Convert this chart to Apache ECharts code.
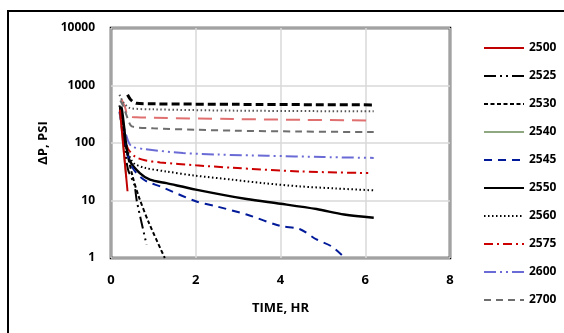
<!DOCTYPE html>
<html>
<head>
<meta charset="utf-8">
<script src="https://cdn.jsdelivr.net/npm/echarts@6/dist/echarts.min.js"></script>
<style>
  html, body { margin: 0; padding: 0; background: #fff; }
  #chart { width: 564px; height: 333px; }
</style>
</head>
<body>
<div id="chart"></div>
<script>
// time (hr) / delta P (psi)
const t2500 = [0.21, 0.39];
const p2500 = [380, 14.5];
const t2525 = [0.21, 0.3, 0.4, 0.55, 0.61, 0.84];
const p2525 = [420, 120, 35, 18.8, 9.7, 1.7];
const t2530 = [0.21, 0.35, 0.5, 0.65, 0.9, 1.27];
const p2530 = [420, 90, 28, 12, 4, 1];
const t2540 = [0.21, 0.36];
const p2540 = [380, 25];
const t2545 = [0.2, 0.3, 0.45, 0.6, 0.84, 1.16, 2.0, 2.49, 3.2, 4.0, 4.45, 4.85, 5.2, 5.52];
const p2545 = [350, 120, 45, 30, 21.5, 17.6, 9.7, 7.9, 5.7, 3.6, 3.2, 2.1, 1.6, 1];
const t2550 = [0.2, 0.25, 0.37, 0.45, 0.68, 0.92, 1.31, 2.0, 3.2, 4.0, 4.85, 5.5, 6.2];
const p2550 = [420, 410, 81, 48, 30, 23, 20, 15.5, 10.6, 8.8, 7.1, 5.7, 5.0];
const t2560 = [0.2, 0.3, 0.4, 0.53, 0.8, 1.3, 2.0, 2.87, 3.6, 4.46, 5.3, 6.2];
const p2560 = [450, 150, 70, 45, 37, 32, 27, 23, 20, 17.6, 16.2, 15];
const t2575 = [0.22, 0.3, 0.4, 0.57, 0.8, 1.16, 2.0, 2.87, 4.46, 6.07];
const p2575 = [420, 150, 80, 58, 50, 46, 41, 37, 32, 30];
const t2600 = [0.22, 0.3, 0.4, 0.49, 0.8, 1.7, 2.5, 3.68, 5.0, 6.2];
const p2600 = [420, 200, 110, 87, 78, 67, 63, 60, 57, 55];
const t2700 = [0.22, 0.29, 0.4, 0.49, 1.0, 2.0, 2.87, 4.5, 6.2];
const p2700 = [550, 435, 260, 195, 180, 170, 164, 158, 155];
// curves whose legend entries fall outside the picture
const t2800 = [0.25, 0.33, 0.41, 0.6, 1.0, 2.87, 4.5, 6.05];
const p2800 = [570, 420, 290, 280, 275, 261, 253, 247];
const t2900 = [0.2, 0.3, 0.45, 1.0, 3.0, 6.2];
const p2900 = [690, 500, 405, 385, 365, 355];
const t3000 = [0.39, 0.47, 0.6, 1.0, 3.0, 6.2];
const p3000 = [690, 560, 490, 480, 470, 460];

const legendNames = ['2500', '2525', '2530', '2540', '2545', '2550', '2560', '2575', '2600', '2700'];
const yTicks = [1, 10, 100, 1000, 10000];

const pairs = (t, p) => t.map((x, i) => [x, p[i]]);

function line(name, t, p, color, type, width) {
    return {
        name: name,
        type: 'line',
        data: pairs(t, p),
        symbol: 'none',
        smooth: 0.3,
        lineStyle: { color: color, type: type, width: width || 2 },
        itemStyle: { color: color },
        z: 3
    };
}

const series = [
    line('2800', t2800, p2800, '#e07070', [14, 8]),
    line('2900', t2900, p2900, '#555555', [1.5, 2.5]),
    line('3000', t3000, p3000, '#000000', [8, 4], 3),
    line('2700', t2700, p2700, '#6e6e6e', [7, 5]),
    line('2600', t2600, p2600, '#6b6bd6', [12, 4, 2, 4, 2, 4]),
    line('2575', t2575, p2575, '#cc0000', [9, 4, 2, 4]),
    line('2560', t2560, p2560, '#000000', [1.5, 2.5]),
    line('2550', t2550, p2550, '#000000', 'solid', 2.4),
    line('2545', t2545, p2545, '#001a99', [8, 6]),
    line('2540', t2540, p2540, '#8fa882', 'solid'),
    line('2530', t2530, p2530, '#000000', [4, 2.5]),
    line('2525', t2525, p2525, '#000000', [12, 4, 2, 4, 2, 4]),
    line('2500', t2500, p2500, '#c00000', 'solid')
];

const chart = echarts.init(document.getElementById('chart'));
const font = '"Open Sans", "Liberation Sans", sans-serif';

chart.setOption({
    animation: false,
    backgroundColor: '#fff',
    textStyle: { fontFamily: font },
    graphic: [{
        type: 'rect',
        shape: { x: 8, y: 11, width: 700, height: 400 },
        style: { fill: 'none', stroke: '#000', lineWidth: 2 },
        z: 0
    }],
    grid: {
        left: 111, right: 114, top: 28, bottom: 75,
        show: true, borderColor: '#000', borderWidth: 2.5, backgroundColor: 'transparent'
    },
    legend: {
        orient: 'vertical',
        left: 478, top: 37,
        data: legendNames,
        itemWidth: 40, itemHeight: 14, itemGap: 16,
        itemStyle: { opacity: 0 },
        textStyle: { fontSize: 12, fontWeight: 'bold', color: '#000', fontFamily: font }
    },
    xAxis: {
        type: 'value', min: 0, max: 8, interval: 2,
        name: 'TIME, HR', nameLocation: 'middle', nameGap: 44,
        nameTextStyle: { fontSize: 13, fontWeight: 'bold', color: '#000' },
        axisLine: { show: false },
        axisTick: { show: false },
        axisLabel: { fontSize: 13, fontWeight: 'bold', color: '#000', margin: 16 },
        splitLine: { show: true, lineStyle: { color: '#d9d9d9', width: 1.5 } }
    },
    yAxis: {
        type: 'log', logBase: 10, min: yTicks[0], max: yTicks[yTicks.length - 1],
        name: 'ΔP, PSI', nameLocation: 'middle', nameGap: 56, nameRotate: 90,
        nameTextStyle: { fontSize: 13, fontWeight: 'bold', color: '#000' },
        axisLine: { show: false },
        axisTick: { show: false },
        axisLabel: {
            fontSize: 12, fontWeight: 'bold', color: '#000', margin: 16,
            formatter: (v) => String(Math.round(v))
        },
        splitLine: { show: true, lineStyle: { color: '#d9d9d9', width: 1.5 } }
    },
    series: series
});
</script>
</body>
</html>
